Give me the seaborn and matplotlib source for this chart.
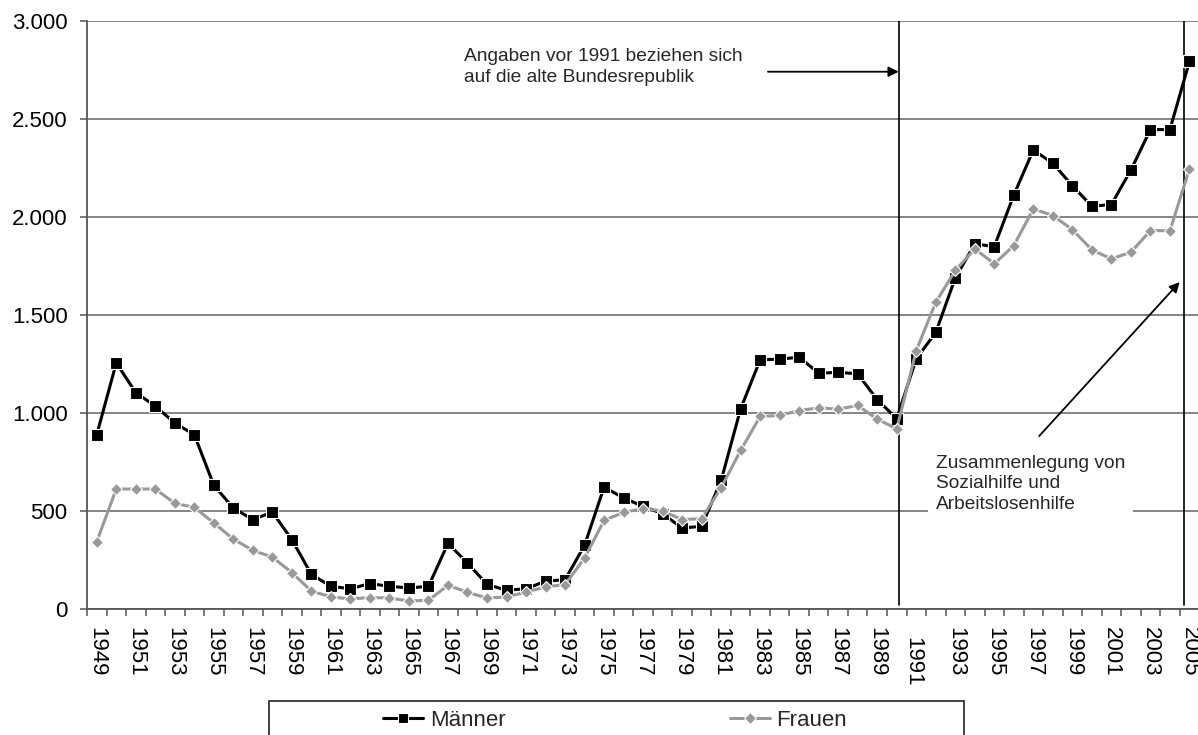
import matplotlib
matplotlib.use("Agg")
import matplotlib.pyplot as plt
import matplotlib.ticker as mticker
from matplotlib.patches import Rectangle
from matplotlib.transforms import ScaledTranslation
import numpy as np
import pandas as pd
import seaborn as sns

# Jahre 1949 bis 2005
jahre = list(range(1949, 2006))

maenner = [890, 1256, 1104, 1036, 949, 890, 632, 516, 457, 496,
           355, 178, 117, 105, 131, 117, 109, 117, 336, 236,
           127, 97, 105, 143, 151, 326, 623, 567, 525, 487,
           414, 423, 657, 1022, 1272, 1275, 1285, 1203, 1208, 1200,
           1068, 972, 1277, 1411, 1689, 1862, 1849, 2112, 2341, 2273,
           2159, 2054, 2063, 2239, 2445, 2445, 2793]

frauen = [345, 613, 613, 613, 540, 520, 440, 358, 300, 266,
          187, 93, 63, 53, 60, 58, 42, 46, 122, 87,
          57, 63, 88, 114, 126, 261, 453, 494, 513, 501,
          457, 462, 620, 810, 983, 988, 1013, 1027, 1020, 1039,
          969, 920, 1319, 1565, 1727, 1837, 1761, 1854, 2041, 2007,
          1935, 1832, 1786, 1820, 1930, 1930, 2244]

serien = ['Männer', 'Frauen']
farben = {'Männer': 'black', 'Frauen': '#999999'}
marker = {'Männer': 's', 'Frauen': 'D'}

df = pd.DataFrame({
    'Jahr': jahre * 2,
    'Wert': maenner + frauen,
    'Geschlecht': ['Männer'] * len(jahre) + ['Frauen'] * len(jahre),
})

sns.set_theme(style='white')
plt.rcParams['font.family'] = ['Liberation Sans', 'DejaVu Sans']

W, H = 1198, 735
fig = plt.figure(figsize=(W / 100, H / 100), dpi=100)
ax = fig.add_axes([87 / W, 1 - 609.3 / H, 1 - 87 / W + 0.001, (609.3 - 20.7) / H])

sns.lineplot(data=df, x='Jahr', y='Wert', hue='Geschlecht', style='Geschlecht',
             hue_order=serien, style_order=serien, palette=farben,
             markers=marker, dashes=False, linewidth=2.2, legend=False, ax=ax)

# square vs diamond sizes
ax.lines[0].set_markersize(8.5)
ax.lines[1].set_markersize(6.5)
for ln in ax.lines:
    ln.set_markeredgecolor('white')
    ln.set_markeredgewidth(0.8)

ax.set_xlim(1948.5, 2005.5)
ax.set_ylim(0, 3000)
ax.set_xlabel('')
ax.set_ylabel('')

# y axis
ax.yaxis.set_major_locator(mticker.MultipleLocator(500))
ax.yaxis.set_major_formatter(mticker.FuncFormatter(lambda v, p: f"{v:,.0f}".replace(',', '.')))
ax.grid(axis='y', color='#707070', linewidth=1.2)
ax.tick_params(axis='y', left=True, length=5, width=1.1, color='#555555',
               labelsize=16, pad=9, labelcolor='black')

# x axis: labels at category centres, ticks at boundaries
ax.set_xticks(jahre[::2])
ax.set_xticklabels([str(j) for j in jahre[::2]], rotation=-90, ha='center', va='top')
ax.set_xticks(np.array(jahre + [2006]) - 0.5, minor=True)
ax.tick_params(axis='x', which='major', length=0, labelsize=16, pad=13, labelcolor='black')
ax.tick_params(axis='x', which='minor', bottom=True, length=5, width=1.1, color='#555555')

for lab in ax.get_xticklabels():
    if lab.get_text() == '1991':
        lab.set_transform(lab.get_transform() + ScaledTranslation(-0.04, -0.10, fig.dpi_scale_trans))

for side in ['top', 'right']:
    ax.spines[side].set_visible(False)
for side in ['left', 'bottom']:
    ax.spines[side].set_color('#555555')
    ax.spines[side].set_linewidth(1.3)

# vertical marker lines
ax.axvline(1990.1, ymin=0.007, color='black', linewidth=1.2, zorder=1)
ax.axvline(2004.7, ymin=0.007, color='black', linewidth=1.2, zorder=1)

# annotations
ax.text(1982.1, 2762, 'Angaben vor 1991 beziehen sich\nauf die alte Bundesrepublik',
        fontsize=13.8, va='center', ha='right', multialignment='left', linespacing=1.3)
ax.annotate('', xy=(1990.1, 2740), xytext=(1983.4, 2740),
            arrowprops=dict(arrowstyle='-|>', color='black', lw=1.3,
                            mutation_scale=15, shrinkA=0, shrinkB=0))

ax.text(1992.0, 639, 'Zusammenlegung von\nSozialhilfe und\nArbeitslosenhilfe',
        fontsize=13.8, va='center', ha='left', linespacing=1.3, zorder=5,
        bbox=dict(facecolor='white', edgecolor='none', pad=6))
ax.annotate('', xy=(2004.5, 1668), xytext=(1997.3, 883),
            arrowprops=dict(arrowstyle='-|>', color='black', lw=1.3,
                            mutation_scale=15, shrinkA=0, shrinkB=0))

# legend below the chart
fig.add_artist(Rectangle((269 / W, -0.05), (964 - 269) / W, 0.05 + 1 - 701 / H,
                         transform=fig.transFigure, facecolor='none',
                         edgecolor='#333333', linewidth=1.3, clip_on=False))
fig.legend(handles=ax.lines[:2], labels=serien, loc='center left',
           bbox_to_anchor=(383 / W, 1 - 720 / H), ncol=2, frameon=False,
           fontsize=16, handlelength=1.8, handletextpad=0.3,
           columnspacing=10.1, borderpad=0, borderaxespad=0, markerscale=0.9)

fig.savefig('out.png', dpi=100)
